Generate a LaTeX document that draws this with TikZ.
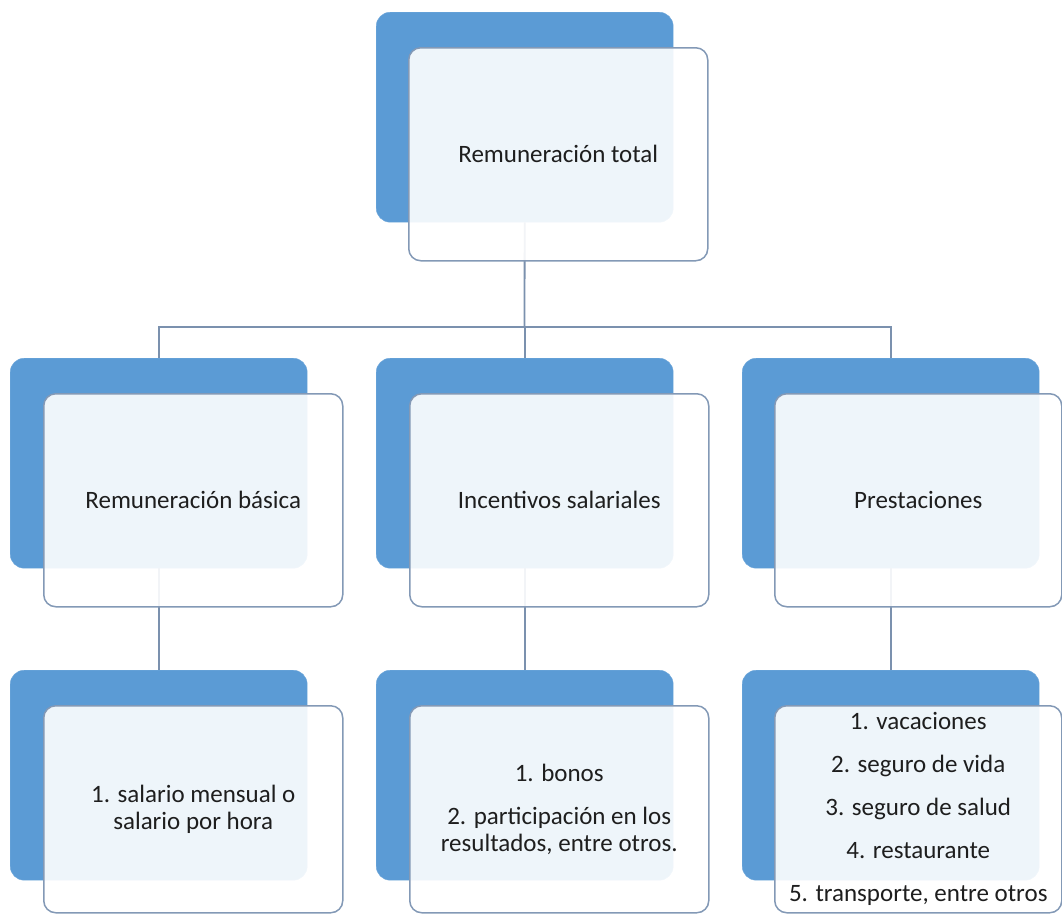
\documentclass[tikz,border=0pt]{standalone}
\usepackage{fontspec}
\setmainfont{Carlito}
\usetikzlibrary{positioning}
\definecolor{backblue}{HTML}{5B9BD5}
\definecolor{edgeblue}{HTML}{8399B6}
\definecolor{linkgray}{HTML}{7B91AE}
\definecolor{textgray}{HTML}{1E1E1E}
\begin{document}
\begin{tikzpicture}[x=1pt,y=-1pt,
  back/.style={draw=backblue!85!white,fill=backblue,rounded corners=14pt,minimum width=297pt,minimum height=210pt,inner sep=0pt,anchor=north west},
  front/.style={draw=edgeblue,line width=1.5pt,fill=white,fill opacity=0.9,text opacity=1,text=textgray,rounded corners=12pt,minimum width=299pt,minimum height=213pt,inner sep=0pt,align=center,font=\fontsize{25}{27}\selectfont},
  link/.style={draw=linkgray,line width=1.8pt}]
\useasboundingbox (0,0) rectangle (1062,914);
%%\draw[help lines] (0,0) grid[step=50] (1062,914);
\node [back] (totB) at (376,12) {};
\node [back] (basB) at (10,358) {};
\node [back] (incB) at (376,358) {};
\node [back] (preB) at (742,358) {};
\node [back] (basLB) at (10,670) {};
\node [back] (incLB) at (376,670) {};
\node [back] (preLB) at (742,670) {};
\coordinate (bus) at (524.5,327);
\draw [link] (totB.south) -- (bus);
\draw [link] (bus) -| (basB.north);
\draw [link] (bus) -| (incB.north);
\draw [link] (bus) -| (preB.north);
\draw [link] (basB.south) -- (basLB.north);
\draw [link] (incB.south) -- (incLB.north);
\draw [link] (preB.south) -- (preLB.north);
\node [front, below right=35pt and 32pt of totB.north west] (tot) {Remuneración total};
\node [front, below right=35pt and 33pt of basB.north west] (bas) {Remuneración básica};
\node [front, below right=35pt and 33pt of incB.north west] (inc) {Incentivos salariales};
\node [front, minimum width=287pt, below right=35pt and 32pt of preB.north west] (pre) {Prestaciones};
\node [front, minimum height=207pt, below right=35pt and 33pt of basLB.north west] (basL) {1. salario mensual o\\salario por hora};
\node [front, minimum height=207pt, below right=35pt and 33pt of incLB.north west] (incL) {1. bonos\\[16pt]2. participación en los\\resultados, entre otros.};
\node [front, minimum width=287pt, minimum height=207pt, below right=35pt and 32pt of preLB.north west] (preL) {1. vacaciones\\[16pt]2. seguro de vida\\[16pt]3. seguro de salud\\[16pt]4. restaurante\\[16pt]5. transporte, entre otros};
\end{tikzpicture}
\end{document}
